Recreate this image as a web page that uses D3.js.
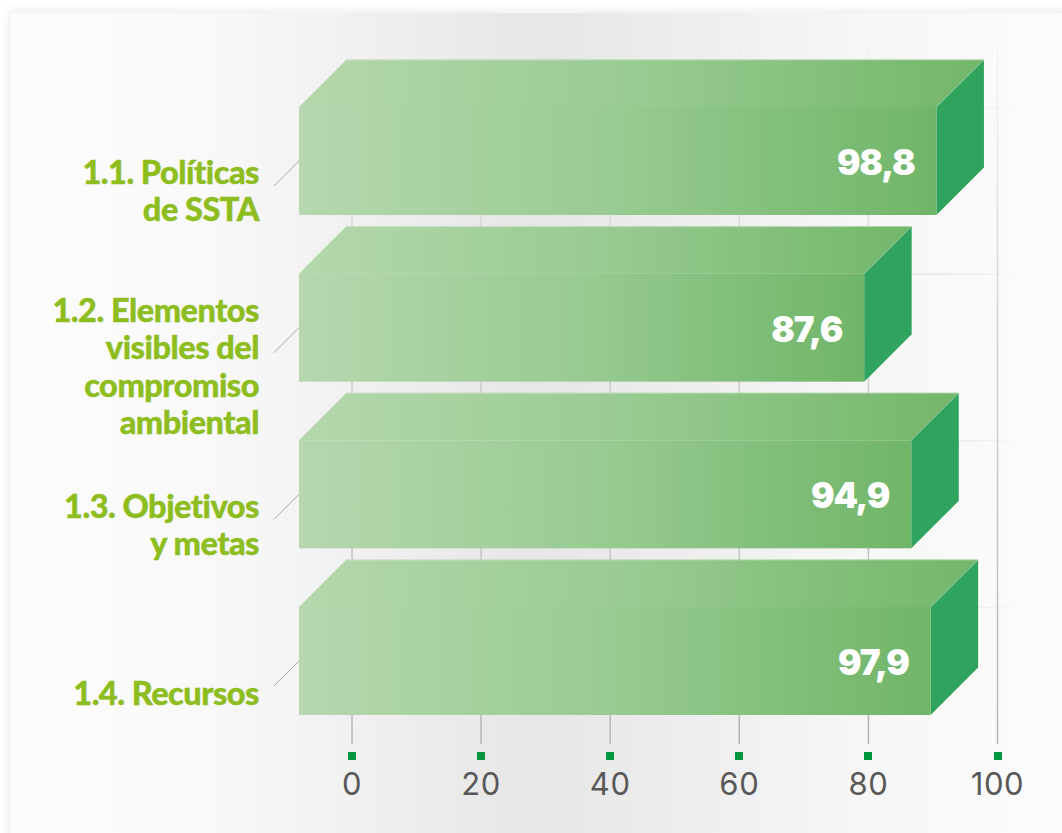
<!DOCTYPE html>
<html lang="es">
<head>
    <meta charset="UTF-8">
    <title>Políticas de SSTA</title>
    <script src="https://cdn.jsdelivr.net/npm/d3@7"></script>
    <style>
        html, body { margin: 0; padding: 0; background: #fff; }
        svg { display: block; }
    </style>
</head>
<body>
<script>
    // datos
    var categories = ["1.1", "1.2", "1.3", "1.4"];
    var labelLines = [
        ["1.1. Políticas", "de SSTA"],
        ["1.2. Elementos", "visibles del", "compromiso", "ambiental"],
        ["1.3. Objetivos", "y metas"],
        ["1.4. Recursos"]
    ];
    var values = [98.8, 87.6, 94.9, 97.9];
    var valueLabels = ["98,8", "87,6", "94,9", "97,9"];
    var tickValues = [0, 20, 40, 60, 80, 100];

    var width = 1062;
    var height = 833;

    var svg = d3.select("body")
        .append("svg")
        .attr("width", width)
        .attr("height", height);

    var defs = svg.append("defs");

    function addGradient(id, stops, attrs) {
        var g = defs.append("linearGradient").attr("id", id);
        Object.keys(attrs).forEach(function (k) { g.attr(k, attrs[k]); });
        stops.forEach(function (s) {
            g.append("stop")
                .attr("offset", s[0])
                .attr("stop-color", s[1])
                .attr("stop-opacity", s[2] === undefined ? 1 : s[2]);
        });
    }

    addGradient("cardFill",
        [[0, "#fcfcfc"], [0.18, "#f9f9f9"], [0.5, "#e6e6e6"], [0.8, "#f6f6f6"], [1, "#fcfcfc"]],
        {x1: 0, x2: 1, y1: 0, y2: 0});
    addGradient("frontFill", [[0, "#b6d7af"], [0.5, "#98cb91"], [1, "#6fb568"]],
        {x1: 0, x2: 1, y1: 0, y2: 0});
    addGradient("topFill", [[0, "#b5d7ad"], [0.5, "#98cb91"], [1, "#73b669"]],
        {x1: 0, x2: 1, y1: 0, y2: 0});
    addGradient("vGrid", [[0, "#d8d8d8", 0.15], [0.3, "#c8c8c8", 0.7], [1, "#b4b4b4", 1]],
        {gradientUnits: "userSpaceOnUse", x1: 0, x2: 0, y1: 48, y2: 744});
    addGradient("hGrid", [[0, "#e4e4e4"], [0.88, "#e6e6e6"], [1, "#e6e6e6", 0]],
        {gradientUnits: "userSpaceOnUse", x1: 299, x2: 1022, y1: 0, y2: 0});

    var blur = defs.append("filter").attr("id", "cardShadow")
        .attr("x", "-5%").attr("y", "-5%").attr("width", "110%").attr("height", "110%");
    blur.append("feGaussianBlur").attr("stdDeviation", 6);

    // tarjeta de fondo
    svg.append("rect")
        .attr("x", 9).attr("y", 11)
        .attr("width", 1090).attr("height", 860)
        .attr("fill", "#d9dee0")
        .attr("opacity", 0.6)
        .attr("filter", "url(#cardShadow)");
    svg.append("rect")
        .attr("x", 11).attr("y", 13)
        .attr("width", 1051).attr("height", 820)
        .attr("fill", "url(#cardFill)");

    // escalas
    var x = d3.scaleLinear().domain([0, 100]).range([352, 997.5]);
    var y = d3.scaleBand().domain(categories).range([107, 715]).paddingInner(0.352);

    var depth = 47.5;     // profundidad de la barra 3D
    var backGap = 5.8;    // la cara trasera termina un poco antes del valor
    var barLeft = 299;

    // rejilla
    svg.append("g").selectAll("line")
        .data(categories)
        .enter()
        .append("line")
        .attr("x1", barLeft)
        .attr("x2", 1022)
        .attr("y1", function (d) { return y(d) + 0.5; })
        .attr("y2", function (d) { return y(d) + 0.5; })
        .attr("stroke", "url(#hGrid)")
        .attr("stroke-width", 1.5);

    svg.append("g").selectAll("line")
        .data(tickValues)
        .enter()
        .append("line")
        .attr("x1", function (d) { return x(d); })
        .attr("x2", function (d) { return x(d); })
        .attr("y1", 48)
        .attr("y2", 744)
        .attr("stroke", "url(#vGrid)")
        .attr("stroke-width", 1.5);

    // lineas guia de las etiquetas
    svg.append("g").selectAll("line")
        .data(categories)
        .enter()
        .append("line")
        .attr("x1", 274)
        .attr("y1", function (d) { return y(d) + 79; })
        .attr("x2", barLeft)
        .attr("y2", function (d) { return y(d) + 54; })
        .attr("stroke", "#a8a8a8")
        .attr("stroke-width", 1);

    // barras
    var bars = svg.append("g").selectAll("g")
        .data(categories)
        .enter()
        .append("g");

    function frontRight(i) { return x(values[i]) - backGap - depth; }

    bars.append("path")
        .attr("fill", "url(#topFill)")
        .attr("d", function (d, i) {
            var t = y(d), r = frontRight(i);
            return "M" + barLeft + "," + t + "L" + (barLeft + depth) + "," + (t - depth)
                + "L" + (r + depth) + "," + (t - depth) + "L" + r + "," + t + "Z";
        });

    bars.append("path")
        .attr("fill", "#30a45f")
        .attr("d", function (d, i) {
            var t = y(d), b = t + y.bandwidth(), r = frontRight(i);
            return "M" + r + "," + t + "L" + (r + depth) + "," + (t - depth)
                + "L" + (r + depth) + "," + (b - depth) + "L" + r + "," + b + "Z";
        });

    bars.append("rect")
        .attr("x", barLeft)
        .attr("y", function (d) { return y(d); })
        .attr("width", function (d, i) { return frontRight(i) - barLeft; })
        .attr("height", y.bandwidth())
        .attr("fill", "url(#frontFill)");

    // borde claro de la cara superior
    bars.append("path")
        .attr("fill", "none")
        .attr("stroke", "#ffffff")
        .attr("stroke-opacity", 0.25)
        .attr("stroke-width", 1)
        .attr("d", function (d, i) {
            var t = y(d), r = frontRight(i);
            return "M" + (barLeft + depth) + "," + (t - depth + 0.5)
                + "L" + (r + depth) + "," + (t - depth + 0.5) + "L" + r + "," + t;
        });

    // valores
    bars.append("text")
        .attr("x", function (d, i) { return frontRight(i) - 22; })
        .attr("y", function (d) { return y(d) + 68; })
        .attr("text-anchor", "end")
        .attr("font-family", "Inter, 'Open Sans', sans-serif")
        .attr("font-weight", 900)
        .attr("font-size", 35)
        .attr("letter-spacing", -1.2)
        .attr("fill", "#ffffff")
        .text(function (d, i) { return valueLabels[i]; });

    // etiquetas de categoria
    var labelBase = [184, 322, 518, 705];
    var labels = svg.append("g").selectAll("text")
        .data(categories)
        .enter()
        .append("text")
        .attr("text-anchor", "end")
        .attr("font-family", "Lato, 'Open Sans', sans-serif")
        .attr("font-weight", 900)
        .attr("font-size", 32.5)
        .attr("letter-spacing", -0.5)
        .attr("stroke", "#8dbd1e")
        .attr("stroke-width", 0.4)
        .attr("fill", "#8dbd1e");

    labels.selectAll("tspan")
        .data(function (d, i) {
            return labelLines[i].map(function (s, j) {
                return {text: s, base: labelBase[i], j: j};
            });
        })
        .enter()
        .append("tspan")
        .attr("x", 259)
        .attr("y", function (d) { return d.base + d.j * 37.4; })
        .text(function (d) { return d.text; });

    // eje
    var axis = d3.axisBottom(x)
        .tickValues(tickValues)
        .tickSize(0)
        .tickPadding(0)
        .offset(0)
        .tickFormat(function (d) { return d; });

    var axisG = svg.append("g")
        .attr("transform", "translate(0,752)")
        .call(axis);

    axisG.select(".domain").remove();
    axisG.selectAll(".tick text")
        .attr("y", 43)
        .attr("dy", 0)
        .attr("font-family", "Inter, 'Open Sans', sans-serif")
        .attr("font-size", 31)
        .attr("letter-spacing", 0.6)
        .attr("fill", "#585858");
    axisG.selectAll(".tick")
        .append("rect")
        .attr("x", function (d) { return Math.round(x(d)) - x(d) - 4; })
        .attr("y", 0)
        .attr("width", 8)
        .attr("height", 8)
        .attr("fill", "#009640");
</script>
</body>
</html>
